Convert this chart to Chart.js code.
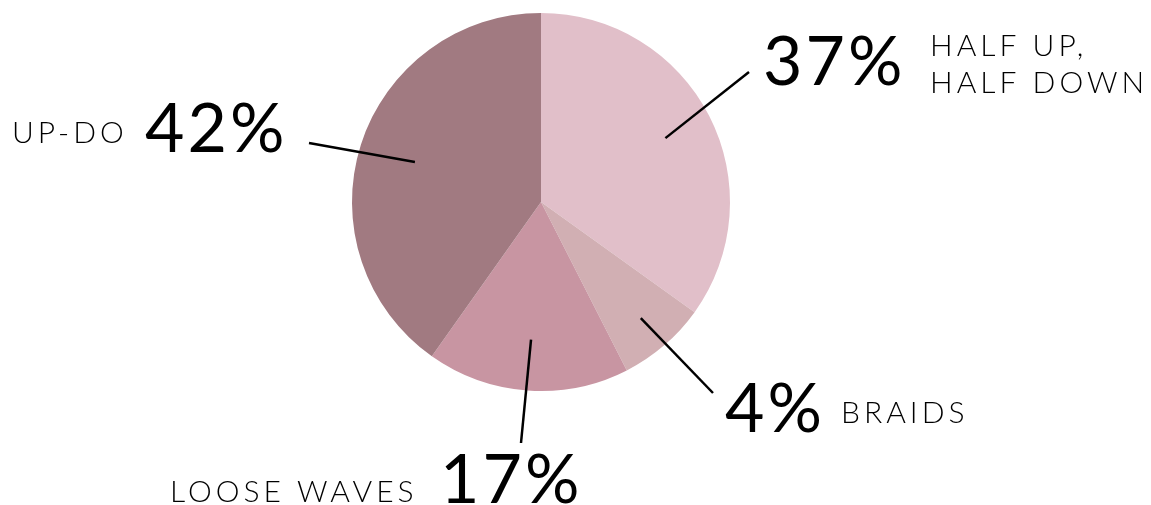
<!DOCTYPE html>
<html>
<head>
<meta charset="utf-8">
<script src="https://cdn.jsdelivr.net/npm/chart.js@4"></script>
<style>
  html, body { margin: 0; padding: 0; background: #fff; }
  #wrap { width: 1151px; height: 505px; }
</style>
</head>
<body>
<div id="wrap"><canvas id="pieChart" width="1151" height="505"></canvas></div>
<script>
// slice sizes as drawn (degrees, in percent)
const categories = ['HALF UP, HALF DOWN', 'BRAIDS', 'LOOSE WAVES', 'UP-DO'];
const sliceValues = [34.9, 7.6, 17.3, 40.2];
const percentText = ['37%', '4%', '17%', '42%'];
const sliceColors = ['#e1bfc9', '#d1afb3', '#c895a2', '#a17a81'];

// callout placement per slice
const callouts = [
  { k: 0.74, end: [749, 72], pct: [763, 85], name: ['HALF UP,', 'HALF DOWN'], nameAt: [930, 56], nameGap: 37 },
  { k: 0.81, end: [713, 393], pct: [725, 432], name: ['BRAIDS'], nameAt: [841, 423] },
  { k: 0.73, end: [521, 443], pct: [440, 503], name: ['LOOSE WAVES'], nameAt: [170, 502] },
  { k: 0.70, end: [309, 143], pct: [145, 152], name: ['UP-DO'], nameAt: [12, 143] }
];

const calloutPlugin = {
  id: 'callouts',
  afterDraw(chart) {
    const ctx = chart.ctx;
    const meta = chart.getDatasetMeta(0);
    ctx.save();
    meta.data.forEach((arc, i) => {
      const c = callouts[i];
      const mid = (arc.startAngle + arc.endAngle) / 2;
      const sx = arc.x + Math.cos(mid) * arc.outerRadius * c.k;
      const sy = arc.y + Math.sin(mid) * arc.outerRadius * c.k;
      ctx.strokeStyle = '#000';
      ctx.lineWidth = 2.5;
      ctx.beginPath();
      ctx.moveTo(sx, sy);
      ctx.lineTo(c.end[0], c.end[1]);
      ctx.stroke();

      ctx.fillStyle = '#000';
      ctx.textAlign = 'left';
      ctx.textBaseline = 'alphabetic';
      ctx.font = '400 68px Lato';
      ctx.letterSpacing = '3px';
      ctx.fillText(percentText[i], c.pct[0], c.pct[1]);

      ctx.font = '300 30px Lato';
      ctx.letterSpacing = '4px';
      c.name.forEach((line, j) => {
        ctx.fillText(line, c.nameAt[0], c.nameAt[1] + j * (c.nameGap || 0));
      });
    });
    ctx.restore();
  }
};

new Chart(document.getElementById('pieChart'), {
  type: 'pie',
  data: {
    labels: categories,
    datasets: [{
      data: sliceValues,
      backgroundColor: sliceColors,
      borderWidth: 0
    }]
  },
  options: {
    responsive: false,
    animation: false,
    layout: { padding: { top: 13, bottom: 114, left: 300, right: 369 } },
    plugins: {
      legend: { display: false },
      tooltip: { enabled: false }
    }
  },
  plugins: [calloutPlugin]
});
</script>
</body>
</html>
